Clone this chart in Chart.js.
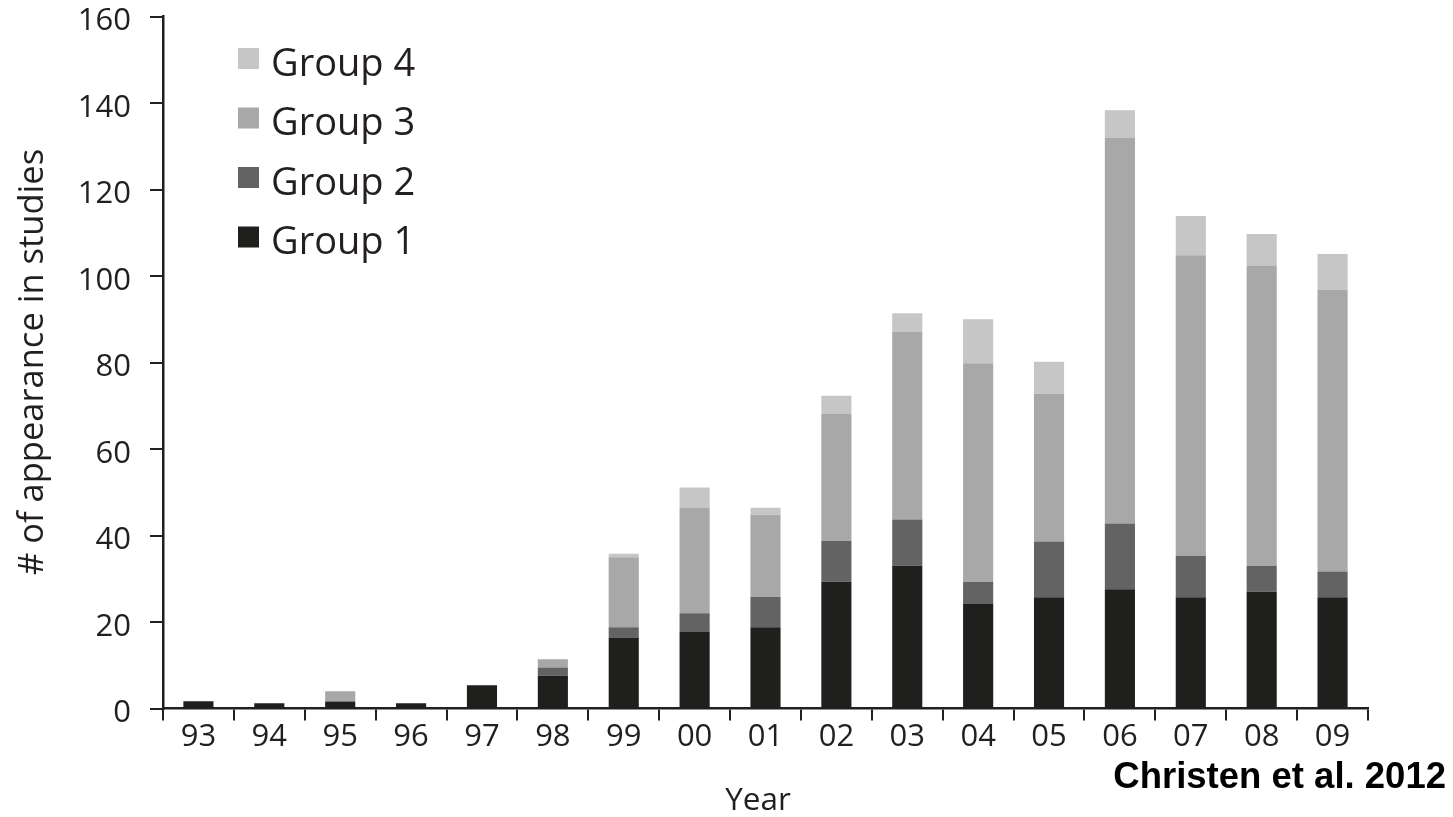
<!DOCTYPE html>
<html>
<head>
<meta charset="utf-8">
<script src="https://cdn.jsdelivr.net/npm/chart.js@4/dist/chart.umd.min.js"></script>
<style>
  html, body { margin: 0; padding: 0; background: #ffffff; }
  #wrap { width: 1453px; height: 817px; }
</style>
</head>
<body>
<div id="wrap"><canvas id="c" width="1453" height="817"></canvas></div>
<script>
const years = ['93','94','95','96','97','98','99','00','01','02','03','04','05','06','07','08','09'];
const group1 = [1.7, 1.2, 1.6, 1.2, 5.4, 7.6, 16.4, 17.8, 18.8, 29.3, 33.0, 24.3, 25.7, 27.6, 25.7, 27.0, 25.7];
const group2 = [0, 0, 0, 0, 0, 1.9, 2.4, 4.2, 7.0, 9.4, 10.7, 5.0, 12.9, 15.2, 9.6, 6.0, 6.0];
const group3 = [0, 0, 2.4, 0, 0, 1.9, 16.2, 24.5, 19.0, 29.5, 43.4, 50.5, 34.2, 89.1, 69.5, 69.4, 65.1];
const group4 = [0, 0, 0, 0, 0, 0, 0.8, 4.6, 1.6, 4.1, 4.3, 10.2, 7.4, 6.4, 9.1, 7.3, 8.3];
const seriesNames = ['Group 1', 'Group 2', 'Group 3', 'Group 4'];
const seriesColors = ['#1f1f1d', '#636363', '#a8a8a8', '#c6c6c6'];
const yTitle = '# of appearance in studies';
const xTitle = 'Year';
const credit = 'Christen et al. 2012';

const textColor = '#231f20';
const FONT = '"Open Sans", "Noto Sans", sans-serif';

const overlay = {
  id: 'overlay',
  afterDraw(chart) {
    const ctx = chart.ctx;
    ctx.save();
    ctx.fillStyle = textColor;
    // y title
    ctx.font = '34.5px ' + FONT;
    ctx.textAlign = 'center';
    ctx.textBaseline = 'alphabetic';
    ctx.save();
    ctx.translate(43, 362);
    ctx.rotate(-Math.PI / 2);
    ctx.fillText(yTitle, 0, 0);
    ctx.restore();
    // x title
    ctx.font = '31.5px ' + FONT;
    ctx.fillText(xTitle, 758, 810);
    // credit
    ctx.fillStyle = '#000000';
    ctx.font = 'bold 36.5px "Liberation Sans", Arial, sans-serif';
    ctx.textAlign = 'right';
    ctx.fillText(credit, 1446, 788);
    // legend (reverse order)
    ctx.font = '38px ' + FONT;
    ctx.textAlign = 'left';
    const ds = chart.data.datasets;
    for (let i = ds.length - 1, row = 0; i >= 0; i--, row++) {
      const top = 48 + row * 59.5;
      ctx.fillStyle = ds[i].backgroundColor;
      ctx.fillRect(238, top, 21, 21);
      ctx.fillStyle = textColor;
      ctx.fillText(ds[i].label, 271, top + 27.5);
    }
    ctx.restore();
  }
};

const datasets = [group1, group2, group3, group4].map((d, i) => ({
  label: seriesNames[i],
  data: d,
  backgroundColor: seriesColors[i],
  borderWidth: 0,
  barPercentage: 0.425,
  categoryPercentage: 1.0
}));

new Chart(document.getElementById('c'), {
  type: 'bar',
  data: { labels: years, datasets },
  options: {
    responsive: false,
    animation: false,
    devicePixelRatio: 1,
    layout: { padding: { left: 0, right: 85, top: 16.5, bottom: 0 } },
    plugins: { legend: { display: false }, tooltip: { enabled: false } },
    scales: {
      x: {
        stacked: true,
        z: 1,
        grid: { display: true, drawOnChartArea: false, drawTicks: true, tickLength: 12, color: textColor, lineWidth: 2, offset: true },
        border: { display: true, color: textColor, width: 2.5 },
        ticks: { color: textColor, font: { family: FONT, size: 31, lineHeight: 1 }, padding: 1, maxRotation: 0, autoSkip: false },
        afterFit(scale) { scale.height = 108.5; }
      },
      y: {
        stacked: true,
        min: 0, max: 160,
        z: 1,
        grid: { display: true, drawOnChartArea: false, drawTicks: true, tickLength: 13, color: textColor, lineWidth: 2 },
        border: { display: true, color: textColor, width: 2.5 },
        ticks: { stepSize: 20, color: textColor, font: { family: FONT, size: 31, lineHeight: 1 }, padding: 19, labelOffset: 5 },
        afterFit(scale) { scale.width = 163; scale.paddingTop = 0; scale.paddingBottom = 0; }
      }
    }
  },
  plugins: [overlay]
});
</script>
</body>
</html>
